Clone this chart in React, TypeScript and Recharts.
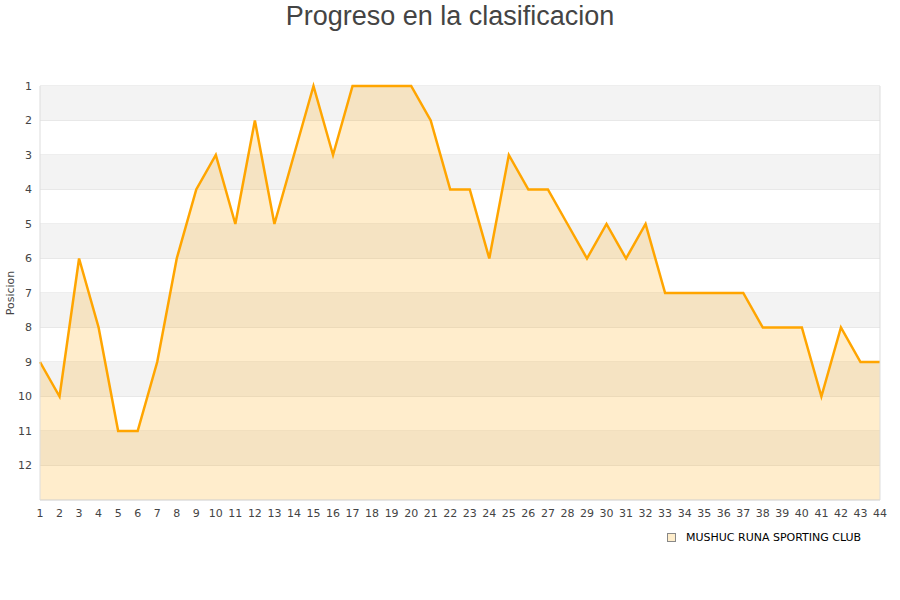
import {
  ComposedChart,
  Area,
  XAxis,
  YAxis,
  CartesianGrid,
  ReferenceArea,
  ReferenceLine,
  Legend,
} from 'recharts';

// Jornadas y posición del equipo
const jornadas = [
  1, 2, 3, 4, 5, 6, 7, 8, 9, 10, 11, 12, 13, 14, 15, 16, 17, 18, 19, 20, 21, 22,
  23, 24, 25, 26, 27, 28, 29, 30, 31, 32, 33, 34, 35, 36, 37, 38, 39, 40, 41, 42, 43, 44,
];
const posiciones = [
  9, 10, 6, 8, 11, 11, 9, 6, 4, 3, 5, 2, 5, 3, 1, 3, 1, 1, 1, 1, 2, 4,
  4, 6, 3, 4, 4, 5, 6, 5, 6, 5, 7, 7, 7, 7, 7, 8, 8, 8, 10, 8, 9, 9,
];
const yTicks = [1, 2, 3, 4, 5, 6, 7, 8, 9, 10, 11, 12];
const equipo = 'MUSHUC RUNA SPORTING CLUB';
const titulo = 'Progreso en la clasificacion';

const data = jornadas.map((j, i) => ({ jornada: j, pos: posiciones[i] }));

const tickStyle = { fontSize: 11, fill: '#444', fontFamily: 'DejaVu Sans' };

export default function App() {
  return (
    <div style={{ position: 'absolute', left: 0, top: 0, width: 900, height: 600, background: '#fff' }}>
      <div
        style={{
          position: 'absolute',
          top: 0,
          width: 900,
          textAlign: 'center',
          fontFamily: 'Liberation Sans',
          fontSize: 27,
          color: '#444',
          lineHeight: '32px',
        }}
      >
        {titulo}
      </div>
      <ComposedChart
        width={900}
        height={600}
        data={data}
        margin={{ top: 86, right: 20, bottom: 57, left: 0 }}
      >
        {/* bandas alternas */}
        {yTicks
          .filter((t) => t % 2 === 1)
          .map((t) => (
            <ReferenceArea key={t} y1={t} y2={t + 1} fill="#f3f3f3" fillOpacity={1} stroke="none" />
          ))}
        <CartesianGrid vertical={false} stroke="#dddddd" />
        <XAxis
          dataKey="jornada"
          type="number"
          domain={[1, 44]}
          ticks={jornadas}
          interval={0}
          tickLine={false}
          tickMargin={3}
          axisLine={{ stroke: '#dddddd' }}
          tick={tickStyle}
        />
        <YAxis
          reversed
          type="number"
          domain={[1, 13]}
          ticks={yTicks}
          interval={0}
          width={40}
          tickLine={false}
          axisLine={{ stroke: '#dddddd' }}
          tick={tickStyle}
          label={{
            value: 'Posicion',
            angle: -90,
            position: 'insideLeft',
            offset: 10,
            style: { fontSize: 11, fill: '#444', fontFamily: 'DejaVu Sans', textAnchor: 'middle' },
          }}
        />
        <ReferenceLine x={44} stroke="#dddddd" />
        <Area
          type="linear"
          dataKey="pos"
          name={equipo}
          stroke="#ffa500"
          strokeWidth={2.5}
          fill="#ffa500"
          fillOpacity={0.2}
          baseValue={13}
          dot={false}
          activeDot={false}
          isAnimationActive={false}
        />
        <Legend
          wrapperStyle={{ position: 'absolute', left: 667, top: 531, width: 'auto' }}
          content={() => (
            <div style={{ display: 'flex', alignItems: 'center', fontFamily: 'DejaVu Sans', fontSize: 11, color: '#000' }}>
              <span
                style={{
                  display: 'inline-block',
                  width: 7,
                  height: 7,
                  border: '1px solid #888',
                  background: '#feedcb',
                  marginRight: 10,
                }}
              />
              {equipo}
            </div>
          )}
        />
      </ComposedChart>
    </div>
  );
}
